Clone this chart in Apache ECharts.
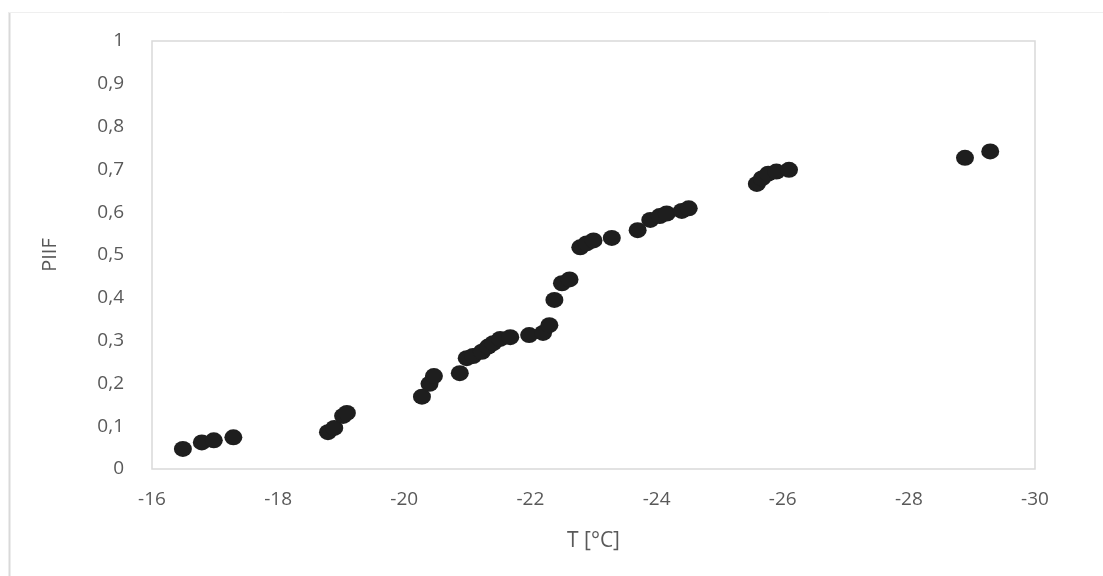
<!DOCTYPE html>
<html>
<head>
<meta charset="utf-8">
<script src="https://cdn.jsdelivr.net/npm/echarts@6/dist/echarts.min.js"></script>
<style>
  html, body { margin: 0; padding: 0; background: #fff; }
  #chart { width: 1103px; height: 576px; }
</style>
</head>
<body>
<div id="chart"></div>
<script>
// Temperature [°C] of each measurement
const temperatures = [
  -16.49, -16.79, -16.98, -17.29,
  -18.79, -18.89, -19.03, -19.09,
  -20.28, -20.40, -20.47,
  -20.88, -20.99, -21.09, -21.23, -21.33, -21.41, -21.52, -21.68,
  -21.98, -22.20, -22.30, -22.38, -22.50, -22.62,
  -22.79, -22.89, -23.00, -23.29, -23.70, -23.90, -24.05, -24.16, -24.40, -24.51,
  -25.59, -25.67, -25.77, -25.90, -26.10,
  -28.89, -29.29
];
// Cumulative frozen fraction PIIF at each temperature
const piif = [
  0.047, 0.062, 0.067, 0.074,
  0.086, 0.096, 0.124, 0.131,
  0.169, 0.199, 0.217,
  0.224, 0.259, 0.264, 0.274, 0.286, 0.294, 0.304, 0.308,
  0.313, 0.318, 0.336, 0.395, 0.434, 0.443,
  0.518, 0.527, 0.534, 0.540, 0.558, 0.582, 0.591, 0.597, 0.603, 0.609,
  0.666, 0.679, 0.690, 0.695, 0.699,
  0.727, 0.742
];
const yTicks = [0, 0.1, 0.2, 0.3, 0.4, 0.5, 0.6, 0.7, 0.8, 0.9, 1];

const points = temperatures.map((t, i) => [t, piif[i]]);
const textColor = '#595959';
const font = 'Open Sans';

const chart = echarts.init(document.getElementById('chart'), null, { renderer: 'canvas' });
chart.setOption({
  backgroundColor: '#ffffff',
  animation: false,
  graphic: [
    { type: 'line', shape: { x1: 9.5, y1: 12, x2: 9.5, y2: 576 }, style: { stroke: '#d9d9d9', lineWidth: 2 } },
    { type: 'line', shape: { x1: 9, y1: 12.5, x2: 1103, y2: 12.5 }, style: { stroke: '#efefef', lineWidth: 1 } }
  ],
  grid: {
    left: 152, right: 68, top: 41, bottom: 107,
    show: true, borderColor: '#d9d9d9', borderWidth: 1.5, backgroundColor: 'transparent'
  },
  xAxis: {
    type: 'value',
    inverse: true,
    min: -30, max: -16, interval: 2,
    name: 'T [°C]',
    nameLocation: 'middle',
    nameGap: 62,
    nameTextStyle: { color: textColor, fontFamily: font, fontSize: 21 },
    axisLine: { show: false },
    axisTick: { show: false },
    splitLine: { show: false },
    axisLabel: { color: textColor, fontFamily: font, fontSize: 19, margin: 21 }
  },
  yAxis: {
    type: 'value',
    min: 0, max: 1, interval: 0.1,
    name: 'PIIF',
    nameLocation: 'middle',
    nameGap: 92,
    nameRotate: 90,
    nameTextStyle: { color: textColor, fontFamily: font, fontSize: 20 },
    axisLine: { show: false },
    axisTick: { show: false },
    splitLine: { show: false },
    axisLabel: {
      color: textColor, fontFamily: font, fontSize: 19, margin: 28,
      formatter: v => {
        const t = yTicks.find(k => Math.abs(k - v) < 1e-9);
        const val = t === undefined ? v : t;
        return String(Math.round(val * 10) / 10).replace('.', ',');
      }
    }
  },
  series: [{
    type: 'scatter',
    data: points,
    symbol: 'circle',
    symbolSize: [18, 16],
    itemStyle: { color: '#1e1e1e', opacity: 1 }
  }]
});
</script>
</body>
</html>
